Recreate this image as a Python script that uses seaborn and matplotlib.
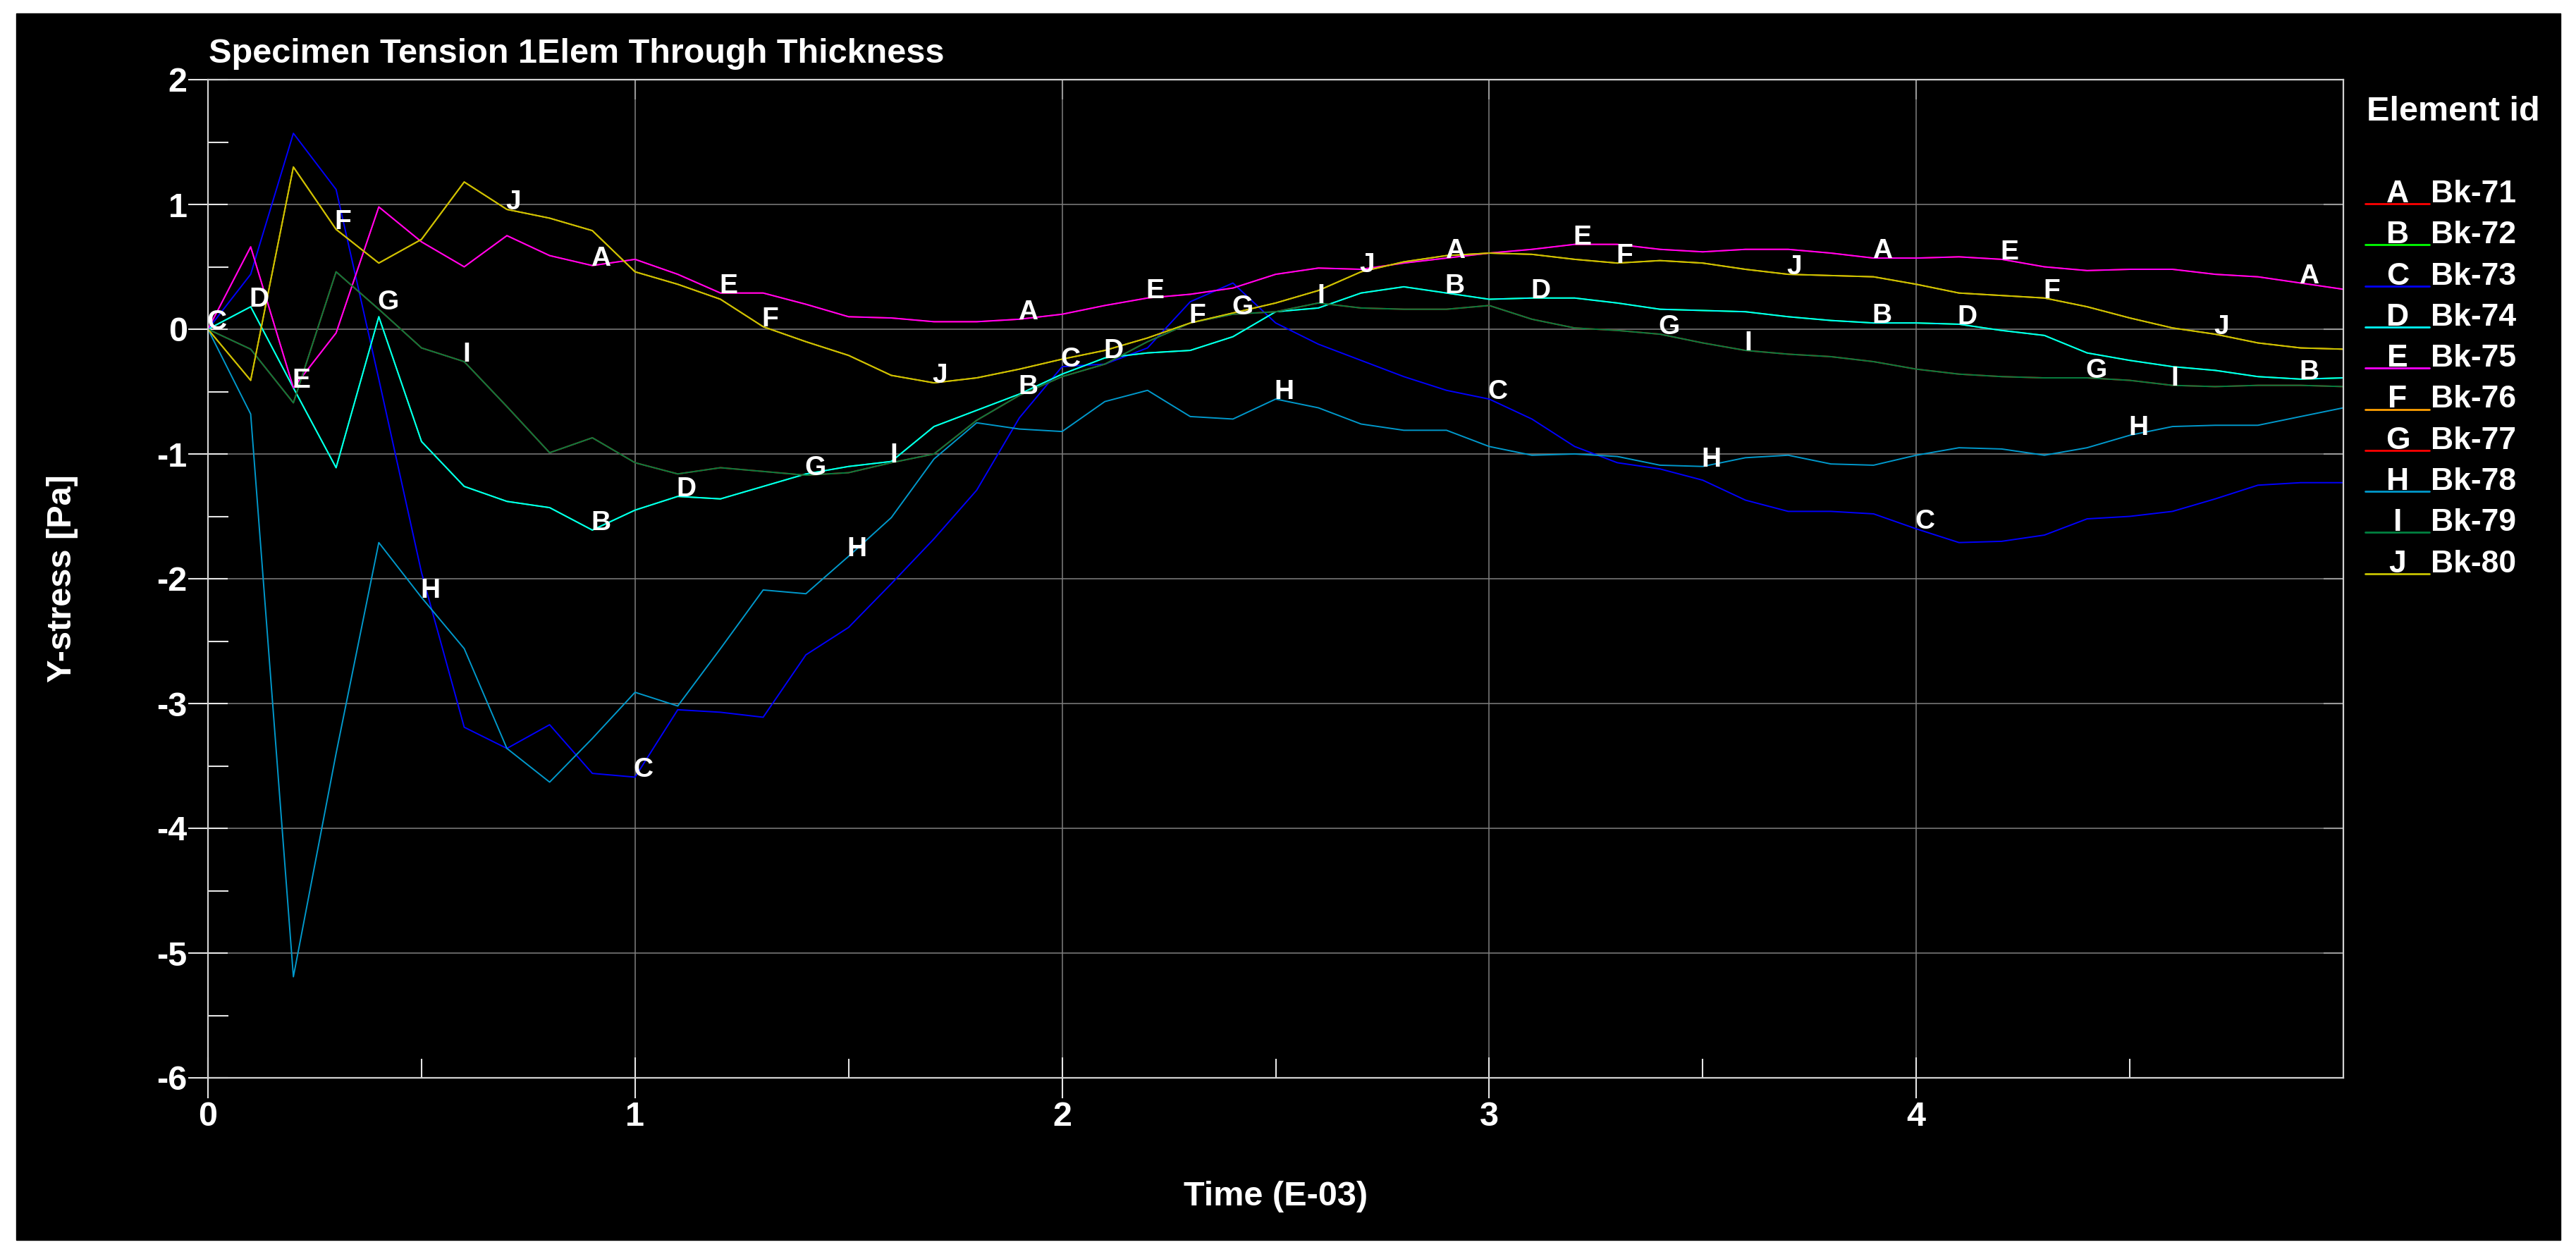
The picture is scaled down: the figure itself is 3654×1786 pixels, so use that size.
import numpy as np
import pandas as pd
import matplotlib
matplotlib.use("Agg")
import matplotlib.pyplot as plt
from matplotlib.lines import Line2D
from matplotlib.patches import Rectangle
from matplotlib.ticker import FixedLocator
import seaborn as sns

W, H = 3655, 1786

# time axis (E-03 s), sampled every 0.1
time_ms = np.linspace(0.0, 5.0, 51)

# curves; several elements lie on top of each other
stress_bk71_75 = [0.00, 0.66, -0.47, -0.03, 0.98, 0.70, 0.50, 0.75, 0.59, 0.51,
                  0.56, 0.44, 0.29, 0.29, 0.20, 0.10, 0.09, 0.06, 0.06, 0.08,
                  0.12, 0.19, 0.25, 0.28, 0.33, 0.44, 0.49, 0.48, 0.53, 0.57,
                  0.61, 0.64, 0.68, 0.68, 0.64, 0.62, 0.64, 0.64, 0.61, 0.57,
                  0.57, 0.58, 0.56, 0.50, 0.47, 0.48, 0.48, 0.44, 0.42, 0.37,
                  0.32]
stress_bk72_74 = [0.00, 0.18, -0.47, -1.11, 0.10, -0.90, -1.26, -1.38, -1.43, -1.61,
                  -1.45, -1.34, -1.36, -1.26, -1.16, -1.10, -1.06, -0.78, -0.65, -0.52,
                  -0.36, -0.23, -0.19, -0.17, -0.06, 0.14, 0.17, 0.29, 0.34, 0.29,
                  0.24, 0.25, 0.25, 0.21, 0.16, 0.15, 0.14, 0.10, 0.07, 0.05,
                  0.05, 0.04, -0.01, -0.05, -0.19, -0.25, -0.30, -0.33, -0.38, -0.40,
                  -0.39]
stress_bk73 = [0.00, 0.44, 1.57, 1.12, -0.40, -1.95, -3.19, -3.36, -3.17, -3.56,
               -3.59, -3.05, -3.07, -3.11, -2.61, -2.39, -2.04, -1.68, -1.29, -0.71,
               -0.30, -0.28, -0.15, 0.22, 0.37, 0.05, -0.12, -0.25, -0.38, -0.49,
               -0.56, -0.72, -0.94, -1.07, -1.12, -1.21, -1.37, -1.46, -1.46, -1.48,
               -1.60, -1.71, -1.70, -1.65, -1.52, -1.50, -1.46, -1.36, -1.25, -1.23,
               -1.23]
stress_bk76_80 = [0.00, -0.41, 1.30, 0.80, 0.53, 0.72, 1.18, 0.96, 0.89, 0.79,
                  0.46, 0.36, 0.24, 0.02, -0.10, -0.21, -0.37, -0.43, -0.39, -0.32,
                  -0.24, -0.17, -0.07, 0.05, 0.13, 0.21, 0.31, 0.46, 0.54, 0.59,
                  0.61, 0.60, 0.56, 0.53, 0.55, 0.53, 0.48, 0.44, 0.43, 0.42,
                  0.36, 0.29, 0.27, 0.25, 0.18, 0.09, 0.01, -0.04, -0.11, -0.15,
                  -0.16]
stress_bk77_79 = [0.00, -0.16, -0.59, 0.46, 0.16, -0.15, -0.26, -0.62, -0.99, -0.87,
                  -1.07, -1.16, -1.11, -1.14, -1.17, -1.15, -1.07, -1.00, -0.73, -0.53,
                  -0.38, -0.28, -0.10, 0.05, 0.12, 0.14, 0.21, 0.17, 0.16, 0.16,
                  0.19, 0.08, 0.01, -0.01, -0.04, -0.11, -0.17, -0.20, -0.22, -0.26,
                  -0.32, -0.36, -0.38, -0.39, -0.39, -0.41, -0.45, -0.46, -0.45, -0.45,
                  -0.46]
stress_bk78 = [0.00, -0.68, -5.19, -3.40, -1.71, -2.15, -2.56, -3.36, -3.63, -3.28,
               -2.91, -3.02, -2.56, -2.09, -2.12, -1.82, -1.51, -1.04, -0.75, -0.80,
               -0.82, -0.58, -0.49, -0.70, -0.72, -0.56, -0.63, -0.76, -0.81, -0.81,
               -0.94, -1.01, -1.00, -1.02, -1.09, -1.10, -1.03, -1.01, -1.08, -1.09,
               -1.01, -0.95, -0.96, -1.01, -0.95, -0.85, -0.78, -0.77, -0.77, -0.70,
               -0.63]

element_ids = ["Bk-71", "Bk-72", "Bk-73", "Bk-74", "Bk-75",
               "Bk-76", "Bk-77", "Bk-78", "Bk-79", "Bk-80"]
letters = ["A", "B", "C", "D", "E", "F", "G", "H", "I", "J"]
series = [stress_bk71_75, stress_bk72_74, stress_bk73, stress_bk72_74, stress_bk71_75,
          stress_bk76_80, stress_bk77_79, stress_bk78, stress_bk77_79, stress_bk76_80]
colors = ["#ff0000", "#00ff00", "#0000ff", "#00ffff", "#ff00ff",
          "#ffa000", "#ff0000", "#0099cc", "#008040", "#c8c400"]
# time of the first curve letter, repeated every 1.0
first_label_time = [0.9, 0.9, 0.0, 0.1, 0.2, 0.3, 0.4, 0.5, 0.6, 0.7]

df = pd.concat([pd.DataFrame({"time": time_ms, "stress": vals, "element": eid})
                for eid, vals in zip(element_ids, series)], ignore_index=True)

sns.set_theme(style="dark")
plt.rcParams["font.family"] = ["Liberation Sans", "DejaVu Sans"]
plt.rcParams["font.weight"] = "bold"
plt.rcParams["axes.unicode_minus"] = False


def fx(px):
    return px / W


def fy(py):
    return 1 - py / H


fig = plt.figure(figsize=(W / 100, H / 100), dpi=100, facecolor="white")
fig.patches.append(Rectangle((fx(23), fy(1759)), fx(3632) - fx(23), fy(19) - fy(1759),
                             transform=fig.transFigure, color="black", zorder=-5))

ax = fig.add_axes([fx(295), fy(1529), fx(3324) - fx(295), fy(113) - fy(1529)])
ax.set_facecolor("black")

sns.lineplot(data=df, x="time", y="stress", hue="element", hue_order=element_ids,
             palette=dict(zip(element_ids, colors)), estimator=None, sort=False,
             linewidth=1.4, legend=False, ax=ax)

# curve letters
for letter, vals, t0 in zip(letters, series, first_label_time):
    for k in range(5):
        idx = int(round((t0 + k) * 10))
        ax.annotate(letter, (time_ms[idx], vals[idx]), xytext=(-2, 0),
                    textcoords="offset pixels", ha="left", va="baseline",
                    fontsize=28, color="white", fontweight="bold", zorder=5)

ax.set_xlim(0, 5)
ax.set_ylim(-6, 2)
ax.set_xticks([0, 1, 2, 3, 4])
ax.set_yticks([-6, -5, -4, -3, -2, -1, 0, 1, 2])
ax.xaxis.set_minor_locator(FixedLocator([0.5, 1.5, 2.5, 3.5, 4.5]))
ax.yaxis.set_minor_locator(FixedLocator([-5.5, -4.5, -3.5, -2.5, -1.5, -0.5, 0.5, 1.5]))
ax.grid(True, which="major", color="#808080", linewidth=1.1)
ax.grid(False, which="minor")

tick_col = "#e6e6e6"
ax.tick_params(axis="x", which="major", direction="inout", length=42, width=1.5,
               color=tick_col, pad=3, labelsize=35, labelcolor="white", bottom=True)
ax.tick_params(axis="y", which="major", direction="inout", length=41, width=1.5,
               color=tick_col, pad=0.5, labelsize=35, labelcolor="white", left=True)
ax.tick_params(axis="x", which="minor", direction="in", length=19.5, width=1.5,
               color=tick_col, bottom=True)
ax.tick_params(axis="y", which="minor", direction="in", length=21, width=1.5,
               color=tick_col, left=True)

for side in ["left", "right", "top", "bottom"]:
    ax.spines[side].set_color("#d2d2d2")
    ax.spines[side].set_linewidth(1.6)

top = ax.secondary_xaxis("top")
top.set_xticks([1, 2, 3, 4])
top.tick_params(direction="in", length=20, width=1.5, color=tick_col, labeltop=False)
top.spines["top"].set_color("#d2d2d2")
right = ax.secondary_yaxis("right")
right.set_yticks([-5, -4, -3, -2, -1, 0, 1])
right.tick_params(direction="in", length=20, width=1.5, color=tick_col, labelright=False)
right.spines["right"].set_color("#d2d2d2")

ax.set_xlabel("Time (E-03)", fontsize=35, color="white", fontweight="bold")
ax.xaxis.label.set_va("center")
ax.xaxis.set_label_coords(0.5, (1529 - 1697) / (1529 - 113))
ax.set_ylabel("Y-stress [Pa]", fontsize=35, color="white", fontweight="bold")
ax.yaxis.label.set_va("center")
ax.yaxis.set_label_coords((89 - 295) / (3324 - 295), 0.5)

fig.text(fx(296), fy(89), "Specimen Tension 1Elem Through Thickness",
         ha="left", va="baseline", fontsize=35, color="white", fontweight="bold")

# legend block on the right
fig.text(fx(3357), fy(171), "Element id", ha="left", va="baseline",
         fontsize=35, color="white", fontweight="bold")
for i, (letter, eid, c) in enumerate(zip(letters, element_ids, colors)):
    base = 287 + 58.3 * i
    fig.add_artist(Line2D([fx(3355), fx(3446)], [fy(base + 2)] * 2,
                          transform=fig.transFigure, color=c, linewidth=2))
    fig.text(fx(3401), fy(base), letter, ha="center", va="baseline",
             fontsize=32, color="white", fontweight="bold")
    fig.text(fx(3448), fy(base), eid, ha="left", va="baseline",
             fontsize=32, color="white", fontweight="bold")

fig.savefig("out.png", dpi=100, facecolor="white")
